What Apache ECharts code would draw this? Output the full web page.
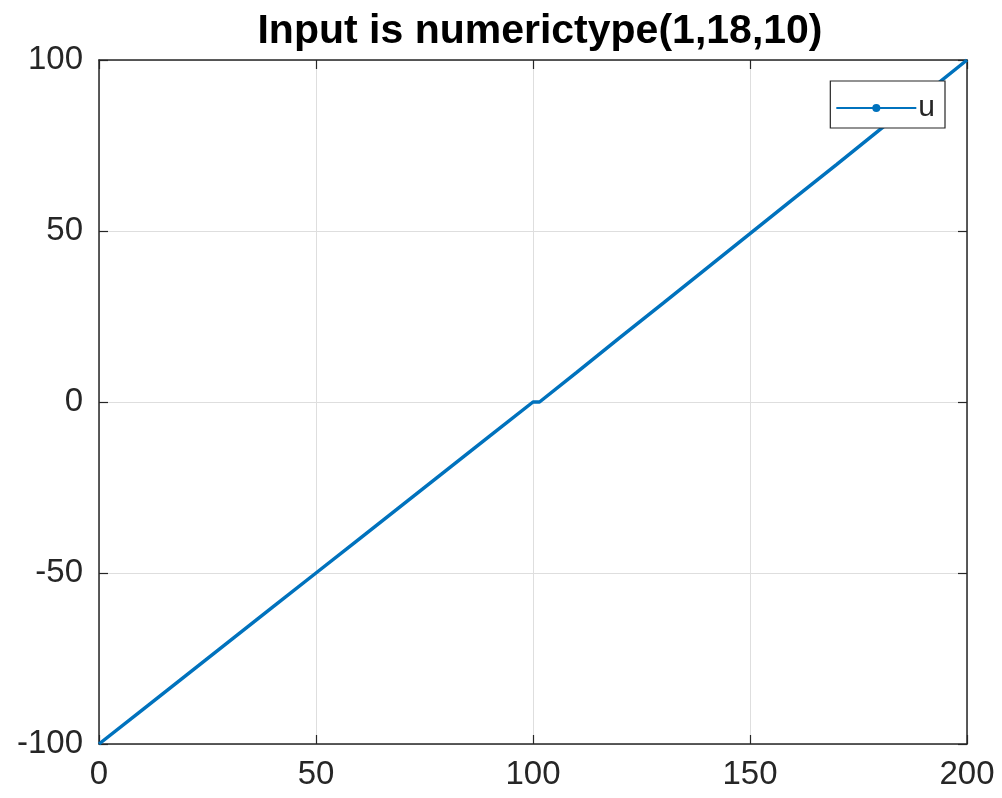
<!DOCTYPE html>
<html>
<head>
<meta charset="utf-8">
<script src="https://cdn.jsdelivr.net/npm/echarts@6/dist/echarts.min.js"></script>
<style>
html,body{margin:0;padding:0;background:#fff;}
#chart{width:1002px;height:798px;}
</style>
</head>
<body>
<div id="chart"></div>
<script>
// samples of u (x index, value)
var xVals = [0, 10, 20, 30, 40, 50, 60, 70, 80, 90, 100, 101.5, 110, 120, 130, 140, 150, 160, 170, 180, 190, 200];
var uVals = [-100, -90, -80, -70, -60, -50, -40, -30, -20, -10, 0, 0, 8.6, 18.8, 28.9, 39.1, 49.2, 59.4, 69.5, 79.7, 89.8, 100];
var xTicks = [0, 50, 100, 150, 200];
var yTicks = [-100, -50, 0, 50, 100];
var titleText = 'Input is numerictype(1,18,10)';
var seriesName = 'u';

var pts = [];
for (var i = 0; i < xVals.length; i++) pts.push([xVals[i], uVals[i]]);

var axisCol = '#262626';
var fontFam = '"Liberation Sans", Arial, sans-serif';

function boxAxis(pos, isX, show) {
	var ax = {
		type: 'value',
		position: pos,
		min: isX ? xTicks[0] : yTicks[0],
		max: isX ? xTicks[xTicks.length - 1] : yTicks[yTicks.length - 1],
		interval: 50,
		axisLine: {show: true, onZero: false, lineStyle: {color: axisCol, width: 1.5}},
		axisTick: {show: true, inside: true, length: 9, lineStyle: {color: axisCol, width: 1.2}},
		axisLabel: {show: show, color: axisCol, fontSize: 33, fontFamily: fontFam, margin: isX ? 14 : 16},
		splitLine: {show: show, lineStyle: {color: '#dedede', width: 1}}
	};
	return ax;
}

var chart = echarts.init(document.getElementById('chart'));
chart.setOption({
	backgroundColor: '#ffffff',
	animation: false,
	title: {
		text: titleText,
		left: 535, top: 6, textAlign: 'center',
		textStyle: {fontSize: 41, fontWeight: 'bold', color: '#000', fontFamily: fontFam}
	},
	legend: {
		right: 57, top: 81,
		data: [seriesName],
		itemWidth: 80, itemHeight: 10, itemGap: 4,
		padding: [12, 10, 5, 5],
		borderColor: axisCol, borderWidth: 1.2, borderRadius: 0,
		backgroundColor: '#fff',
		textStyle: {fontSize: 30, color: axisCol, fontFamily: fontFam, padding: [0, 0, 0, -3]}
	},
	grid: {left: 99, right: 35, top: 60, bottom: 54, containLabel: false},
	xAxis: [boxAxis('bottom', true, true), boxAxis('top', true, false)],
	yAxis: [boxAxis('left', false, true), boxAxis('right', false, false)],
	series: [{
		name: seriesName,
		type: 'line',
		data: pts,
		showSymbol: false,
		symbol: 'circle',
		symbolSize: 6,
		color: '#0072bd',
		lineStyle: {width: 3.5, color: '#0072bd'},
		z: 3
	}]
});
</script>
</body>
</html>
